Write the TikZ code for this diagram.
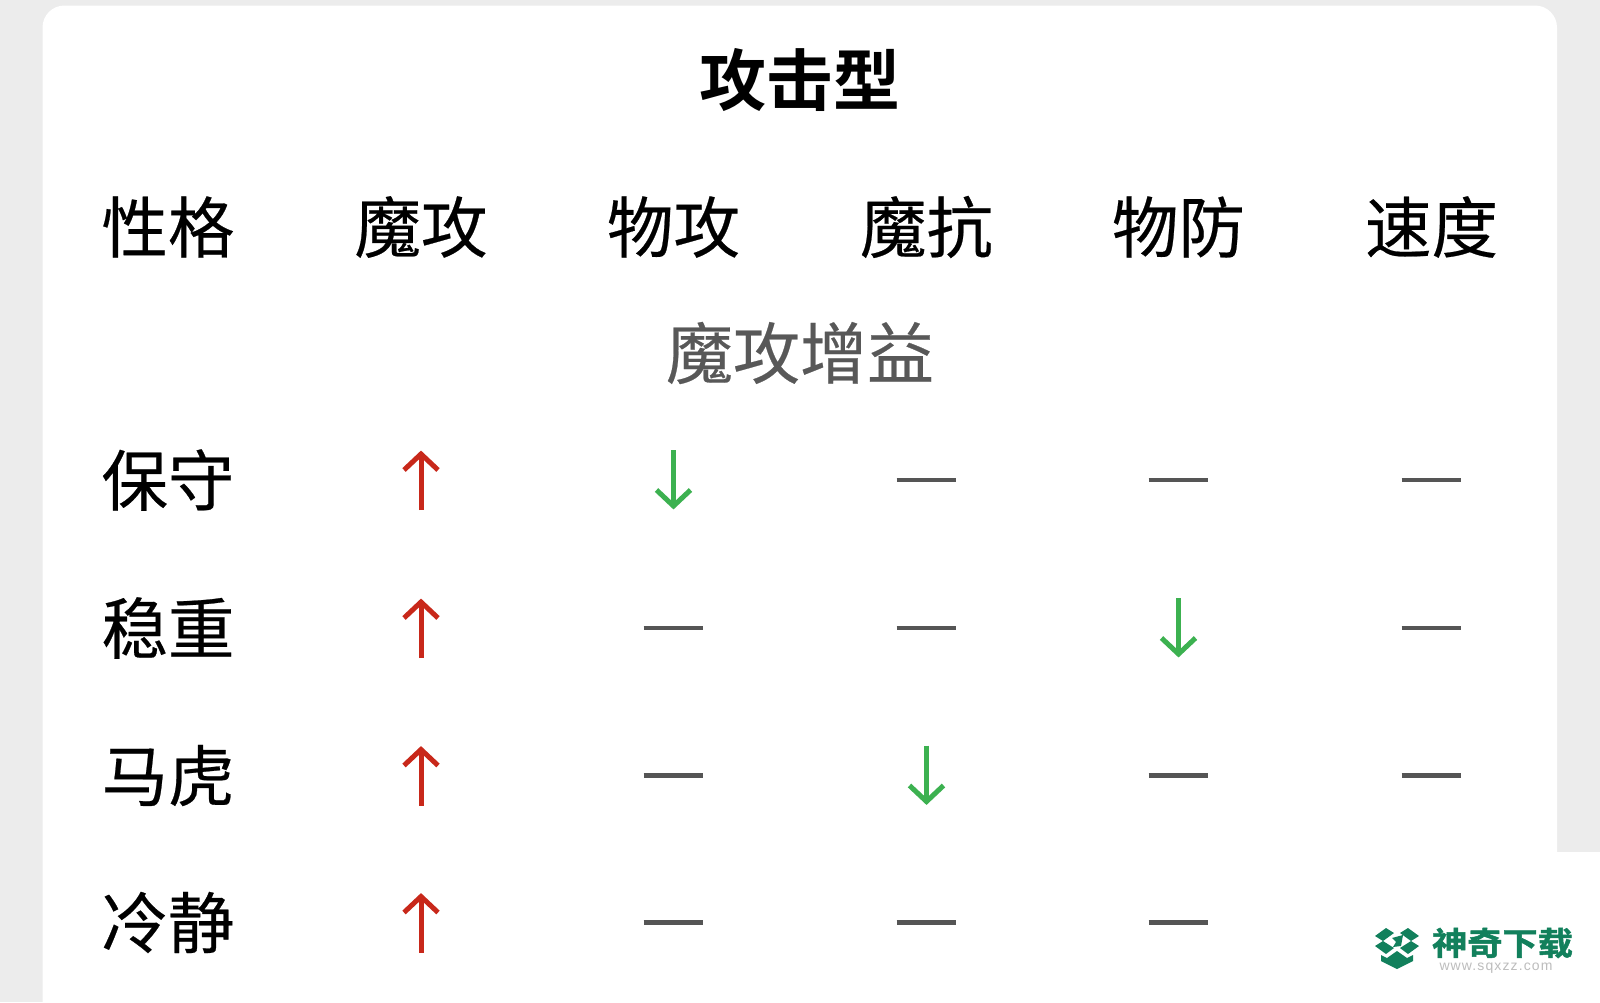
\documentclass[tikz,border=0pt]{standalone}
\usepackage{fontspec}
\setmainfont{Noto Sans CJK SC}
\newfontfamily\cjkreg[FakeBold=0.35]{Noto Sans CJK SC}
\newfontfamily\cjkbold{Noto Sans CJK SC Bold}
\newfontfamily\cjkheavy[FakeBold=1.5,FakeStretch=1.1]{Noto Sans CJK SC Bold}
\newfontfamily\latinlogo[LetterSpace=8]{Liberation Sans}
\definecolor{pagebg}{HTML}{ECECEC}
\definecolor{upred}{HTML}{C8281A}
\definecolor{downgreen}{HTML}{3CB150}
\definecolor{dashgray}{HTML}{555555}
\definecolor{subgray}{HTML}{585858}
\definecolor{logogreen}{HTML}{12805C}
\definecolor{logogray}{HTML}{BDBDBD}
\tikzset{
  cell/.style={inner sep=0pt,font=\cjkreg\fontsize{66.5}{66.5}\selectfont,text=black},
  titletext/.style={inner sep=0pt,font=\cjkbold\fontsize{67}{67}\selectfont,text=black},
  subtext/.style={inner sep=0pt,font=\cjkreg\fontsize{67}{67}\selectfont,text=subgray},
  uparrow/.style={draw=upred,line width=5pt,line join=miter},
  downarrow/.style={draw=downgreen,line width=5pt,line join=miter},
  flat/.style={draw=dashgray,line width=4.6pt},
  logopart/.style={fill=logogreen,draw=none}
}
% #1 = column x, #2 = row y
\newcommand{\markup}[2]{%
  \draw[uparrow] (#1,#2+30) -- (#1,#2-27);
  \draw[uparrow] (#1-17,#2-10) -- (#1,#2-26) -- (#1+17,#2-10);}
\newcommand{\markdown}[2]{%
  \draw[downarrow] (#1,#2-30) -- (#1,#2+27);
  \draw[downarrow] (#1-17,#2+10) -- (#1,#2+26) -- (#1+17,#2+10);}
\newcommand{\markflat}[2]{\draw[flat] (#1-30,#2) -- (#1+29.5,#2);}
\begin{document}
\begin{tikzpicture}[x=1pt,y=-1pt]
\useasboundingbox (0,0) rectangle (1600,1002);
\fill[pagebg] (0,0) rectangle (1600,1002);
\fill[white,rounded corners=22pt] (42.5,5.5) rectangle (1557,1040);
\fill[white] (1300,852) rectangle (1600,1002);

\node[titletext] (title) at (800,80.5) {攻击型};
\foreach \nm/\x/\t in {h0/168/性格,h1/421/魔攻,h2/673.5/物攻,h3/926.5/魔抗,h4/1178.5/物防,h5/1431.5/速度}
  \node[cell] (\nm) at (\x,227) {\t};
\node[subtext] (sub) at (800,353) {魔攻增益};
\foreach \nm/\y/\t in {r0/480/保守,r1/628/稳重,r2/775.5/马虎,r3/922.5/冷静}
  \node[cell] (\nm) at (168,\y) {\t};

\markup{421}{480}\markdown{673.5}{480}\markflat{926.5}{480}\markflat{1178.5}{480}\markflat{1431.5}{480}
\markup{421}{628}\markflat{673.5}{628}\markflat{926.5}{628}\markdown{1178.5}{628}\markflat{1431.5}{628}
\markup{421}{775.5}\markflat{673.5}{775.5}\markdown{926.5}{775.5}\markflat{1178.5}{775.5}\markflat{1431.5}{775.5}
\markup{421}{922.5}\markflat{673.5}{922.5}\markflat{926.5}{922.5}\markflat{1178.5}{922.5}

% logo
\fill[logopart] (1375,936) -- (1386,928) -- (1394,933) -- (1383,941) -- cycle;
\fill[logopart] (1419,936) -- (1408,928) -- (1400,933) -- (1411,941) -- cycle;
\fill[logopart] (1375,946) -- (1383,941) -- (1394,948) -- (1386,954) -- cycle;
\fill[logopart] (1419,946) -- (1411,941) -- (1400,948) -- (1408,954) -- cycle;
\fill[logopart] (1392,938) -- (1403,935) -- (1401,946) -- (1393,947) -- (1396,942) -- cycle;
\fill[logopart] (1381,955) -- (1387,958) -- (1397,951) -- (1407,958) -- (1413,955) -- (1413,961) -- (1397,969) -- (1381,961) -- cycle;
\node[inner sep=0pt,text=logogreen,font=\cjkheavy\fontsize{32}{32}\selectfont] (logotext) at (1502.5,943) {神奇下载};
\node[inner sep=0pt,text=logogray,font=\latinlogo\fontsize{14}{14}\selectfont] (logourl) at (1496,968) {www.sqxzz.com};
\end{tikzpicture}
\end{document}
